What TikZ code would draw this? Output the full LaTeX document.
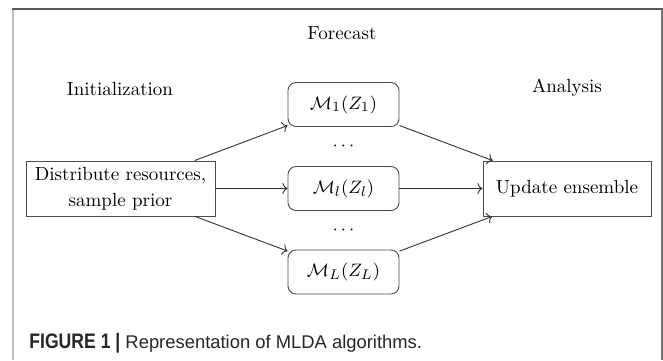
\documentclass[tikz,border=0pt]{standalone}
\usepackage{fontspec}
\newfontfamily\capfont{Liberation Sans}
\usetikzlibrary{arrows.meta}
\begin{document}
\begin{tikzpicture}[x=0.5pt,y=-0.5pt,
  font=\fontsize{9.5}{13}\selectfont,
  box/.style={draw=black!70, line width=0.45pt, inner sep=0pt, minimum height=27.5pt, align=center},
  mbox/.style={box, rounded corners=4pt, minimum width=55.5pt, minimum height=22pt},
  conn/.style={->, draw=black!80, line width=0.45pt},
  lbl/.style={inner sep=0pt}]
\useasboundingbox (0,0) rectangle (663,360);
\fill[white] (0,0) rectangle (663,360);
% frame
\draw[line width=1pt, draw=black!25] (12.5,8.5) -- (12.5,360);
\draw[line width=0.9pt, draw=black!55] (662,8.5) -- (662,360);
\draw[line width=1pt, draw=black!65] (12,8.5) -- (662.5,8.5);
% nodes
\node[box, minimum width=94.5pt] (init) at (120.5,188.5) {Distribute resources,\\ sample prior};
\node[mbox] (m1) at (343.5,104.5) {$\mathcal{M}_1(Z_1)$};
\node[mbox] (ml) at (343.5,188.5) {$\mathcal{M}_l(Z_l)$};
\node[mbox] (mL) at (343.5,272) {$\mathcal{M}_L(Z_L)$};
\node[box, minimum width=84pt] (upd) at (567,188.5) {Update ensemble};
\node[lbl] (d1) at (343.5,146) {$\cdots$};
\node[lbl] (d2) at (343.5,230) {$\cdots$};
% labels
\node[lbl] (fc) at (342,33) {Forecast};
\node[lbl] (ini) at (120,89) {Initialization};
\node[lbl] (ana) at (567,88) {Analysis};
% connectors
\draw[conn] (init) -- (m1);
\draw[conn] (init) -- (ml);
\draw[conn] (init) -- (mL);
\draw[conn] (m1) -- (upd);
\draw[conn] (ml) -- (upd);
\draw[conn] (mL) -- (upd);
% caption
\node[lbl, anchor=west, text=black!85, font=\capfont\fontsize{9.2}{12}\selectfont] (cap) at (29,343)
  {\scalebox{0.88}[1.05]{\fontsize{10}{12}\selectfont\bfseries FIGURE 1 |} Representation of MLDA algorithms.};
\end{tikzpicture}
\end{document}
